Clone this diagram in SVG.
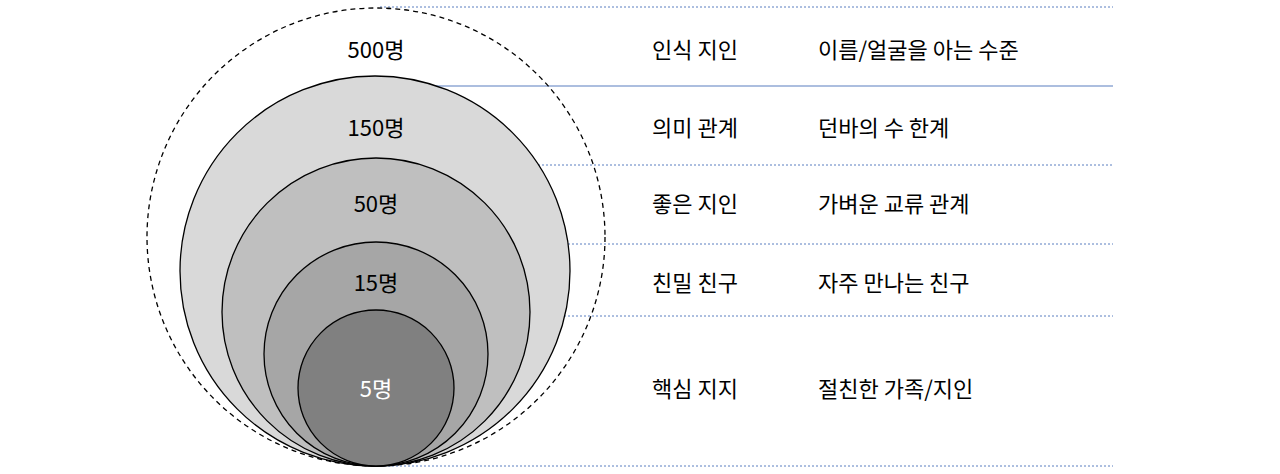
<svg xmlns="http://www.w3.org/2000/svg" width="1280" height="474" viewBox="0 0 1280 474">
<style>
text{font-family:"Noto Sans CJK KR","Noto Sans",sans-serif;font-size:22px;fill:#000}
.c{text-anchor:middle}
.ring{stroke:#000;stroke-width:1.3}
.g{stroke:#5a7fc0;stroke-width:1;stroke-dasharray:2 2}
</style>
<rect width="1280" height="474" fill="#fff"/>
<g id="connectors">
<line class="g" x1="380" y1="7" x2="1113" y2="7"/>
<line x1="390" y1="86" x2="1113" y2="86" stroke="#5a7fc0" stroke-width="1.2"/>
<line class="g" x1="390" y1="165" x2="1113" y2="165"/>
<line class="g" x1="380" y1="244" x2="1113" y2="244"/>
<line class="g" x1="380" y1="316" x2="1113" y2="316"/>
<line class="g" x1="380" y1="466" x2="1113" y2="466"/>
</g>
<g id="n500"><circle cx="376" cy="237" r="229" fill="none" stroke="#000" stroke-width="1.3" stroke-dasharray="5 4"/><text class="c" x="376" y="58">500명</text></g>
<g id="n150"><circle class="ring" cx="375" cy="271" r="195" fill="#d9d9d9"/><text class="c" x="376" y="136">150명</text></g>
<g id="n50"><circle class="ring" cx="376" cy="312" r="154" fill="#bfbfbf"/><text class="c" x="376" y="212">50명</text></g>
<g id="n15"><circle class="ring" cx="376" cy="354" r="112" fill="#a6a6a6"/><text class="c" x="376" y="291">15명</text></g>
<g id="n5"><circle class="ring" cx="376" cy="388" r="78" fill="#808080"/><text class="c" x="376" y="397" style="fill:#fff">5명</text></g>
<g id="labels">
<text x="652" y="58">인식 지인</text><text x="818" y="58">이름/얼굴을 아는 수준</text>
<text x="652" y="136">의미 관계</text><text x="818" y="136">던바의 수 한계</text>
<text x="652" y="212">좋은 지인</text><text x="818" y="212">가벼운 교류 관계</text>
<text x="652" y="291">친밀 친구</text><text x="818" y="291">자주 만나는 친구</text>
<text x="652" y="397">핵심 지지</text><text x="818" y="397">절친한 가족/지인</text>
</g>
</svg>
